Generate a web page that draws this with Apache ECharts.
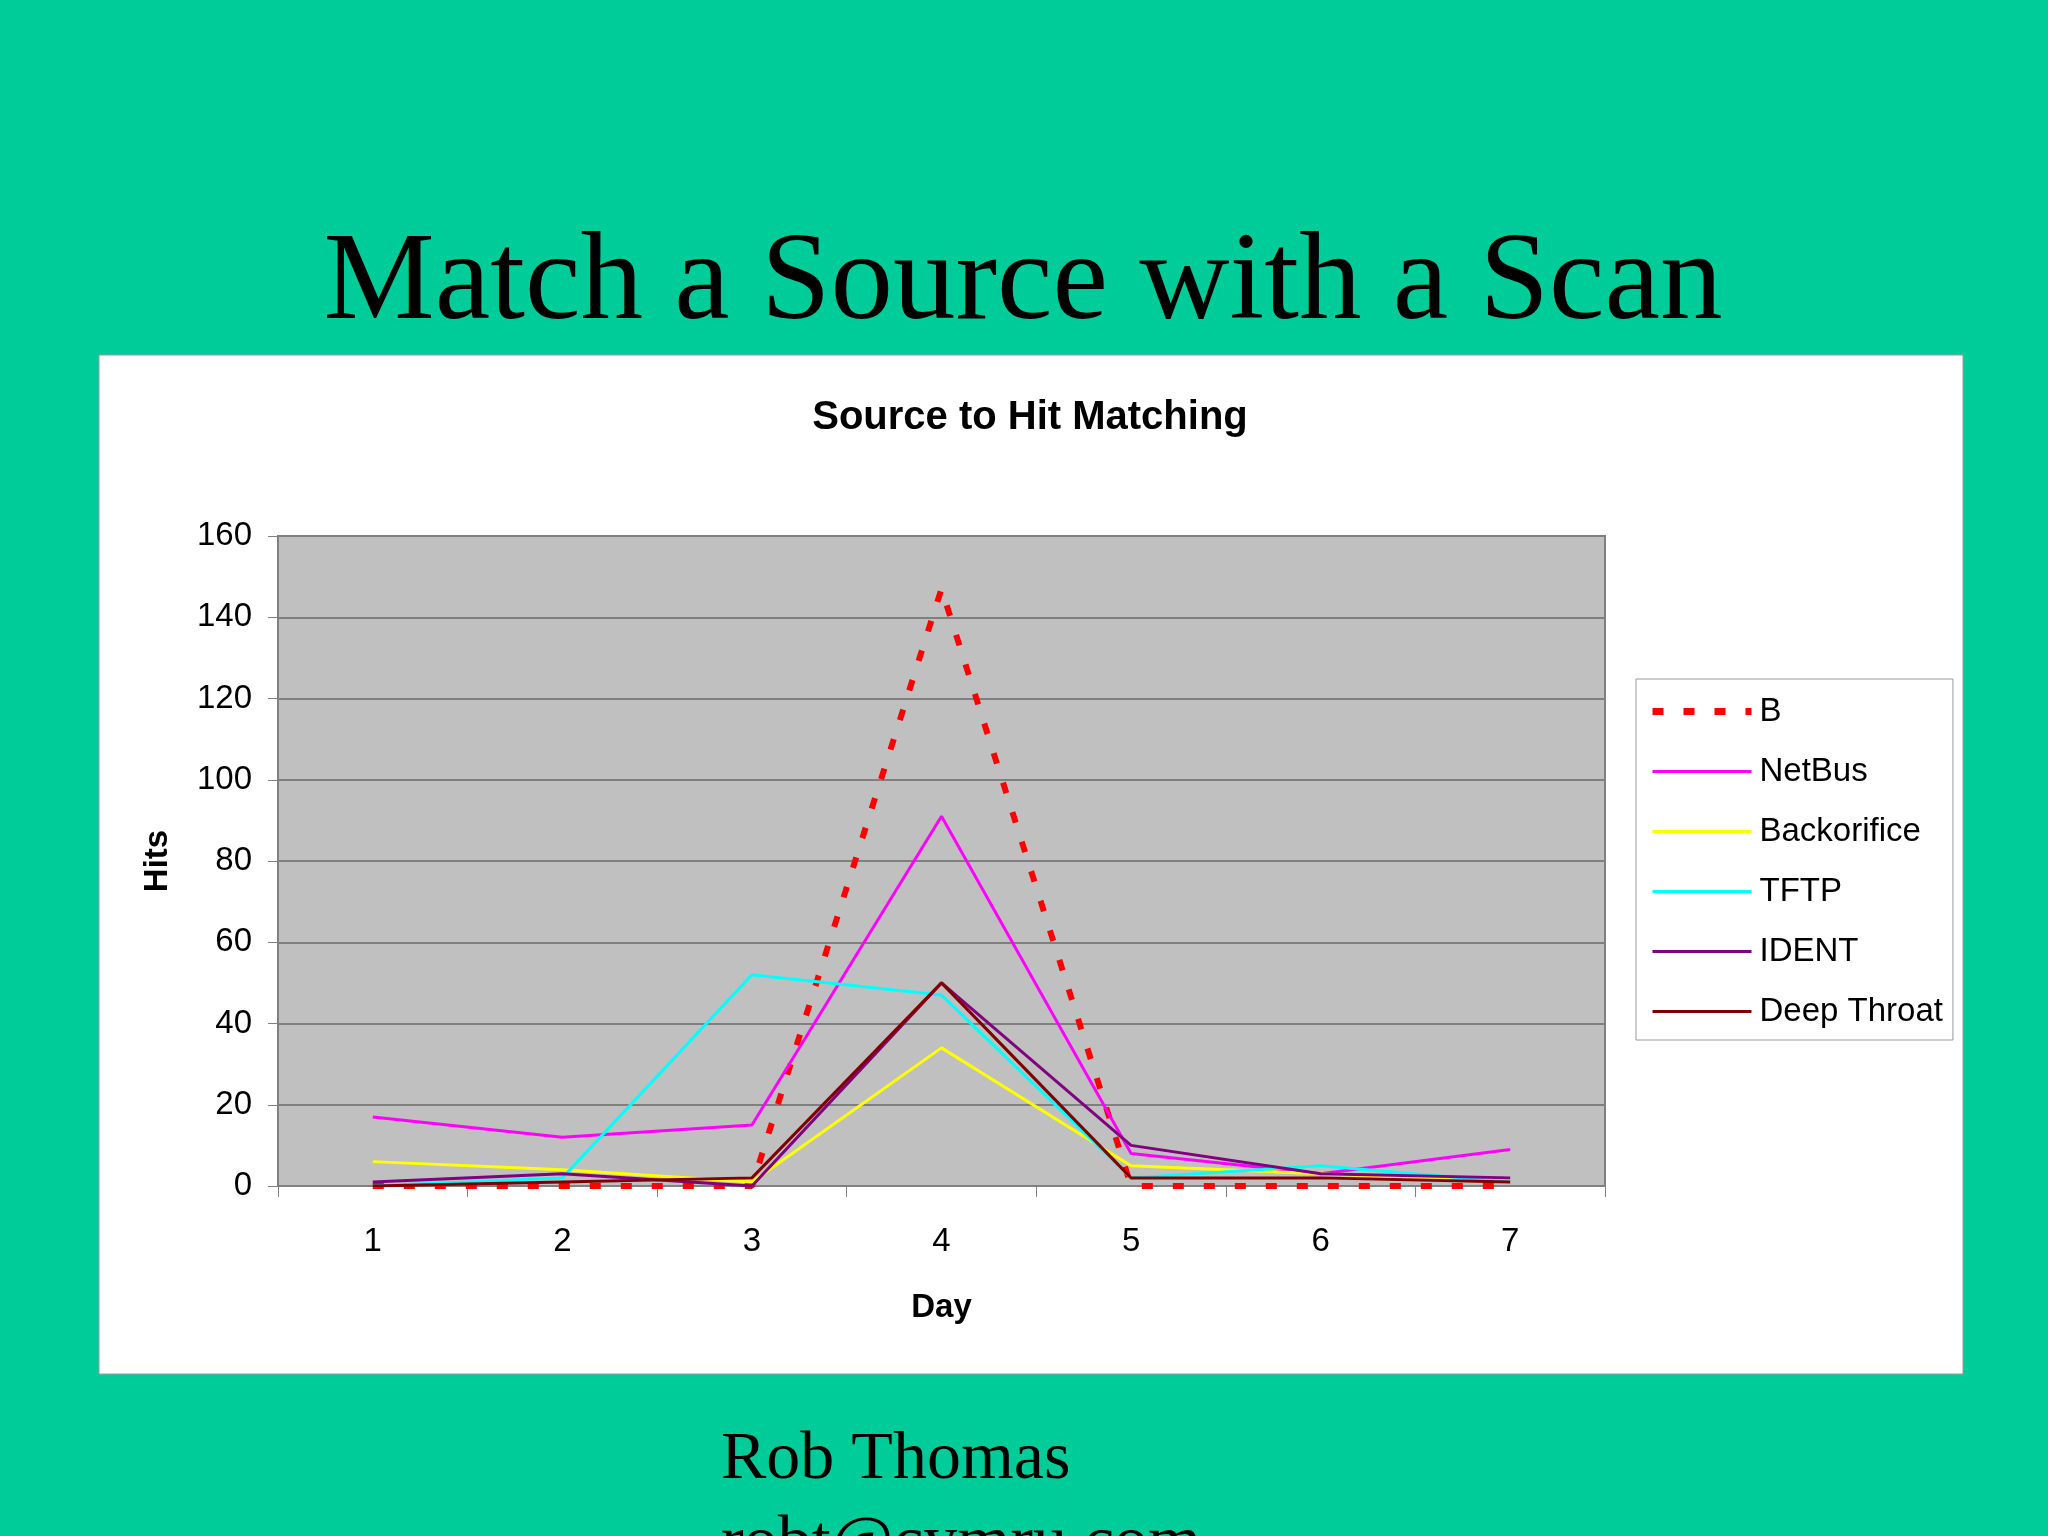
<!DOCTYPE html>
<html>
<head>
<meta charset="utf-8">
<title>Match a Source with a Scan</title>
<script src="https://cdn.jsdelivr.net/npm/echarts@6/dist/echarts.min.js"></script>
<style>
  html, body { margin: 0; padding: 0; background: #00cc99; }
  #chart { width: 2048px; height: 1536px; }
</style>
</head>
<body>
<div id="chart"></div>
<script>
// values
const days = ['1', '2', '3', '4', '5', '6', '7'];
const seriesNames = ['B', 'NetBus', 'Backorifice', 'TFTP', 'IDENT', 'Deep Throat'];
const bHits = [0, 0, 0, 147, 0, 0, 0];
const netBusHits = [17, 12, 15, 91, 8, 3, 9];
const backorificeHits = [6, 4, 1, 34, 5, 3, 1];
const tftpHits = [0, 2, 52, 47, 2, 5, 1];
const identHits = [1, 3, 0, 50, 10, 3, 2];
const deepThroatHits = [0, 1, 2, 50, 2, 2, 1];
const yTicks = { min: 0, max: 160, interval: 20 };

const lineColors = ['#ff0000', '#ff00ff', '#ffff00', '#00ffff', '#800080', '#800000'];
const allHits = [bHits, netBusHits, backorificeHits, tftpHits, identHits, deepThroatHits];

const chart = echarts.init(document.getElementById('chart'));

const sans = 'Arial, "Liberation Sans", sans-serif';
const serif = '"Times New Roman", "Liberation Serif", serif';

function lineStyleFor(i) {
  const dashed = i === 0;
  return {
    color: lineColors[i],
    width: dashed ? 6 : 3,
    type: dashed ? [11, 20] : 'solid',
    cap: 'butt'
  };
}

const series = seriesNames.map(function (name, i) {
  return {
    name: name,
    type: 'line',
    data: allHits[i],
    symbol: 'none',
    color: lineColors[i],
    lineStyle: lineStyleFor(i),
    z: i === 0 ? 3 : 4
  };
});

// legend entries: a plain line sample, no marker
const legendData = seriesNames.map(function (name, i) {
  const ls = lineStyleFor(i);
  return {
    name: name,
    itemStyle: { opacity: 0 },
    lineStyle: { color: ls.color, width: i === 0 ? 7 : 3, type: ls.type, cap: 'butt' }
  };
});

chart.setOption({
  backgroundColor: '#00cc99',
  animation: false,
  graphic: [
    {
      type: 'rect',
      shape: { x: 99, y: 355, width: 1864, height: 1019 },
      style: { fill: '#ffffff', stroke: '#9a9a9a', lineWidth: 1 },
      z: -10
    },
    {
      type: 'text',
      x: 1023, y: 285,
      style: {
        text: 'Match a Source with a Scan',
        font: '125px ' + serif,
        fill: '#000',
        align: 'center',
        verticalAlign: 'middle'
      }
    },
    {
      type: 'text',
      x: 1030, y: 418,
      style: {
        text: 'Source to Hit Matching',
        font: 'bold 40px ' + sans,
        fill: '#000',
        align: 'center',
        verticalAlign: 'middle'
      }
    },
    {
      type: 'text',
      x: 721, y: 1460,
      style: {
        text: 'Rob Thomas',
        font: '68px ' + serif,
        fill: '#000',
        align: 'left',
        verticalAlign: 'middle'
      }
    },
    {
      type: 'text',
      x: 721, y: 1544,
      style: {
        text: 'robt@cymru.com',
        font: '68px ' + serif,
        fill: '#000',
        align: 'left',
        verticalAlign: 'middle'
      }
    }
  ],
  grid: {
    left: 278,
    right: 443,
    top: 536,
    bottom: 350,
    show: true,
    backgroundColor: '#c0c0c0',
    borderColor: '#808080',
    borderWidth: 2
  },
  legend: {
    orient: 'vertical',
    left: 1636,
    top: 679,
    padding: [16, 10, 12, 13],
    itemWidth: 99,
    itemHeight: 34,
    itemGap: 27,
    backgroundColor: '#ffffff',
    borderColor: '#9a9a9a',
    borderWidth: 1,
    itemStyle: { opacity: 0 },
    textStyle: {
      fontFamily: sans,
      fontSize: 33,
      color: '#000',
      padding: [0, 0, 0, 3]
    },
    data: legendData
  },
  xAxis: {
    type: 'category',
    data: days,
    boundaryGap: true,
    name: 'Day',
    nameLocation: 'middle',
    nameGap: 105,
    nameTextStyle: { fontFamily: sans, fontSize: 33, fontWeight: 'bold', color: '#000' },
    axisLine: { lineStyle: { color: '#808080', width: 2 } },
    axisTick: { show: true, length: 11, lineStyle: { color: '#808080', width: 1 } },
    axisLabel: { fontFamily: sans, fontSize: 33, color: '#000', margin: 39 },
    splitLine: { show: false }
  },
  yAxis: {
    type: 'value',
    min: yTicks.min,
    max: yTicks.max,
    interval: yTicks.interval,
    name: 'Hits',
    nameLocation: 'middle',
    nameGap: 104,
    nameRotate: 90,
    nameTextStyle: { fontFamily: sans, fontSize: 33, fontWeight: 'bold', color: '#000' },
    axisLine: { show: true, lineStyle: { color: '#808080', width: 2 } },
    axisTick: { show: true, length: 10, lineStyle: { color: '#808080', width: 1 } },
    axisLabel: { fontFamily: sans, fontSize: 33, color: '#000', margin: 26 },
    splitLine: { show: true, lineStyle: { color: '#7f7f7f', width: 2 } }
  },
  series: series
});
</script>
</body>
</html>
